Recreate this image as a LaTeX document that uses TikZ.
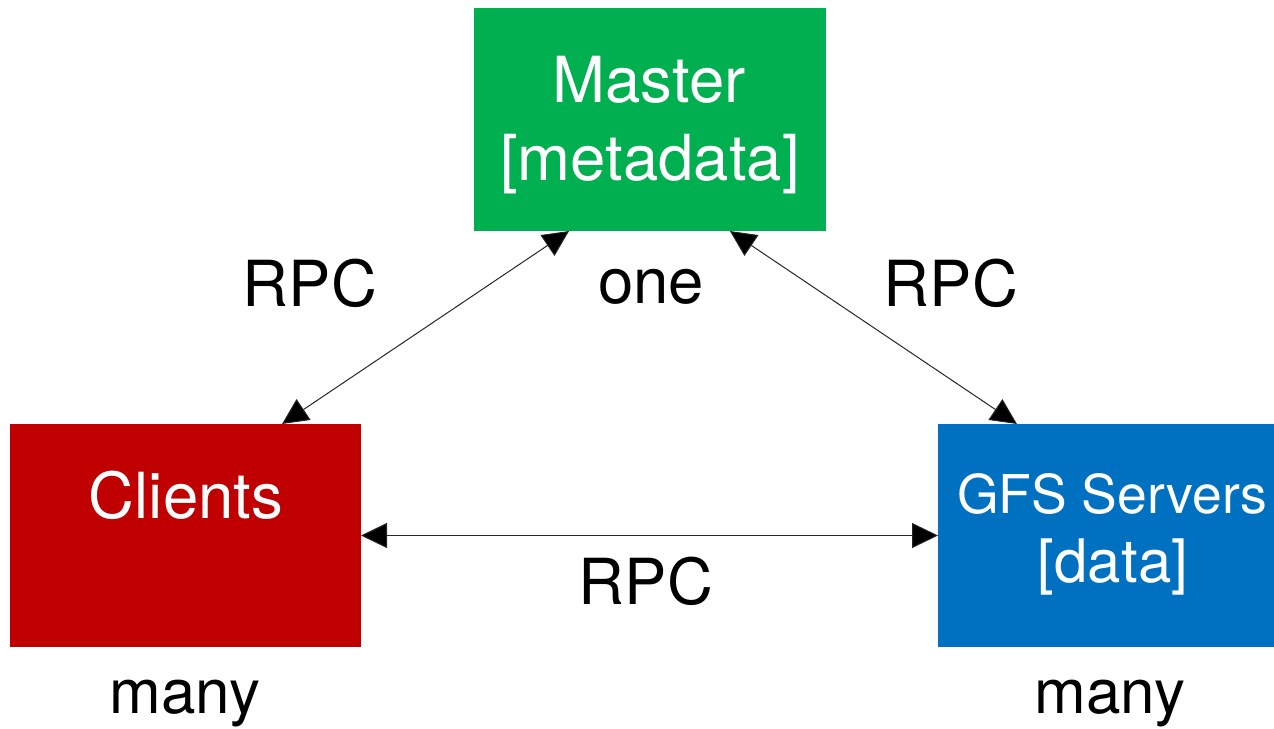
\documentclass[tikz,border=0pt]{standalone}
\usepackage{fontspec}
\setmainfont{TeX Gyre Heros}
\usetikzlibrary{arrows.meta,calc}
\definecolor{mgreen}{HTML}{00AF50}
\definecolor{cred}{HTML}{C00000}
\definecolor{sblue}{HTML}{0070C0}
\tikzset{
  box/.style={rectangle, inner sep=0pt, outer sep=0pt, draw=none, minimum height=223pt},
  lbl/.style={anchor=base, inner sep=0pt, font=\fontsize{63.5}{74}\selectfont},
  wlbl/.style={lbl, text=white},
  link/.style={line width=1pt, draw=black!85, {Triangle[length=26pt,width=25pt,fill=black]}-{Triangle[length=26pt,width=25pt,fill=black]}}
}
\begin{document}
\begin{tikzpicture}[x=1pt,y=-1pt]
\useasboundingbox (0,0) rectangle (1274,728);
\node[box, fill=mgreen, minimum width=352pt] (master) at (650,119.5) {};
\node[box, fill=cred, minimum width=351pt] (clients) at (185.5,535.5) {};
\node[box, fill=sblue, minimum width=336pt] (gfs) at (1106,535.5) {};
\node[wlbl] (mt1) at (649,102) {Master};
\node[wlbl] (mt2) at (650,180) {[metadata]};
\node[wlbl] (ct) at (186,518) {Clients};
\node[wlbl, font=\fontsize{53.5}{60}\selectfont] (gt1) at (1112,513) {GFS Servers};
\node[wlbl, font=\fontsize{60}{66}\selectfont] (gt2) at (1113,582) {[data]};
\node[lbl] (rpc1) at (310,306) {RPC};
\node[lbl] (rpc2) at (951,306) {RPC};
\node[lbl] (rpc3) at (646,604) {RPC};
\node[lbl] (one) at (651,303) {one};
\node[lbl, font=\fontsize{62}{70}\selectfont] (many1) at (185,713) {many};
\node[lbl, font=\fontsize{62}{70}\selectfont] (many2) at (1110,713) {many};
\draw[link] ($(clients.north west)!0.775!(clients.north east)$) -- ($(master.south west)!0.27!(master.south east)$);
\draw[link] ($(master.south west)!0.727!(master.south east)$) -- ($(gfs.north west)!0.235!(gfs.north east)$);
\draw[link] (clients.east) -- (gfs.west);
\end{tikzpicture}
\end{document}
